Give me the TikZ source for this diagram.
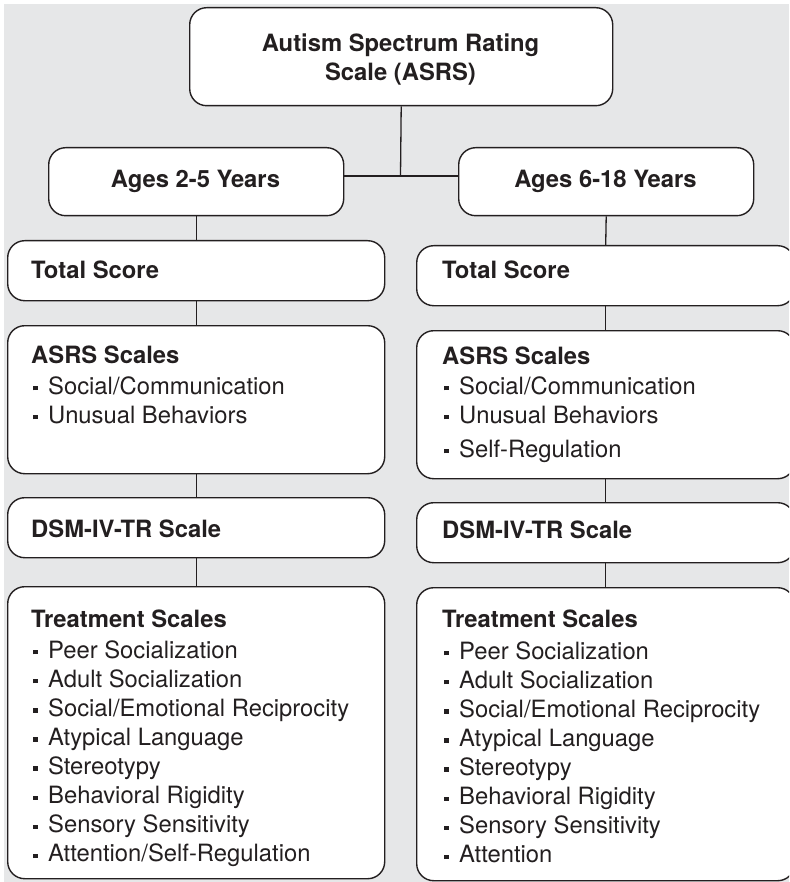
\documentclass[tikz,border=0pt]{standalone}
\usepackage{fontspec}
\setmainfont{TeX Gyre Heros}
\definecolor{panel}{HTML}{E6E7E8}
\definecolor{ink}{HTML}{231F20}
\newcommand{\bul}{\makebox[15pt][l]{\rule[3.7pt]{4.3pt}{4.3pt}}}

\begin{document}
\begin{tikzpicture}[x=1pt,y=-1pt,
  box/.style={rectangle, draw=ink, line width=1.4pt, fill=white,
    rounded corners=17pt, inner sep=0pt, anchor=north west},
  link/.style={draw=ink, line width=1.3pt},
  txt/.style={inner sep=0pt, anchor=base west, text=ink,
    font=\fontsize{23.8}{29}\selectfont},
  head/.style={txt, font=\fontsize{23.8}{29}\selectfont\bfseries},
]
\useasboundingbox (0,0) rectangle (789,882);
\clip (0,0) rectangle (789,882);
\fill[panel] (4,4) rectangle (789,882);

% boxes
\node[box, minimum width=423pt, minimum height=98pt] (top) at (189,7) {};
\node[box, minimum width=295pt, minimum height=68pt] (la) at (48,147) {};
\node[box, minimum width=295pt, minimum height=68pt] (ra) at (458,147) {};

\node[box, minimum width=377pt, minimum height=60pt]  (lt) at (7,240) {};
\node[box, minimum width=377pt, minimum height=148pt] (ls) at (7,325) {};
\node[box, minimum width=377pt, minimum height=60pt]  (ld) at (7,497) {};
\node[box, minimum width=377pt, minimum height=292pt] (lx) at (7,586) {};

\node[box, minimum width=378pt, minimum height=60pt]  (rt) at (416,245) {};
\node[box, minimum width=378pt, minimum height=148pt] (rs) at (416,330) {};
\node[box, minimum width=378pt, minimum height=60pt]  (rd) at (416,502) {};
\node[box, minimum width=378pt, minimum height=293pt] (rx) at (416,587) {};

% connectors
\coordinate (j) at (400.5,176);
\draw[link] (top.south) -- (j);
\draw[link] (la.east |- j) -- (ra.west |- j);
\draw[link] (la.south) -- (lt.north);
\draw[link] (lt.south) -- (ls.north);
\draw[link] (ls.south) -- (ld.north);
\draw[link] (ld.south) -- (lx.north);
\draw[link] (ra.south) -- (rt.north);
\draw[link] (rt.south) -- (rs.north);
\draw[link] (rs.south) -- (rd.north);
\draw[link] (rd.south) -- (rx.north);

% titles
\node[head, anchor=base] (t1) at (400.5,52) {Autism Spectrum Rating};
\node[head, anchor=base] (t2) at (400.5,81) {Scale (ASRS)};
\node[head, anchor=base] (lat) at (195.5,188) {Ages 2-5 Years};
\node[head, anchor=base] (rat) at (605.5,188) {Ages 6-18 Years};

% left column
\node[head] (ltt) at (31,278) {Total Score};
\node[head] (lsh) at (31,363) {ASRS Scales};
\node[txt] (ls1) at (33,394) {\bul Social/Communication};
\node[txt] (ls2) at (33,423) {\bul Unusual Behaviors};
\node[head] (ldt) at (31,537) {DSM-IV-TR Scale};
\node[head] (lxh) at (31,627) {Treatment Scales};
\node[txt] (lx1) at (33,658)   {\bul Peer Socialization};
\node[txt] (lx2) at (33,687.1) {\bul Adult Socialization};
\node[txt] (lx3) at (33,716.2) {\bul Social/Emotional Reciprocity};
\node[txt] (lx4) at (33,745.3) {\bul Atypical Language};
\node[txt] (lx5) at (33,774.4) {\bul Stereotypy};
\node[txt] (lx6) at (33,803.5) {\bul Behavioral Rigidity};
\node[txt] (lx7) at (33,832.6) {\bul Sensory Sensitivity};
\node[txt] (lx8) at (33,861.7) {\bul Attention/Self-Regulation};

% right column
\node[head] (rtt) at (442,278) {Total Score};
\node[head] (rsh) at (442,364) {ASRS Scales};
\node[txt] (rs1) at (444,394) {\bul Social/Communication};
\node[txt] (rs2) at (444,423) {\bul Unusual Behaviors};
\node[txt] (rs3) at (444,457) {\bul Self-Regulation};
\node[head] (rdt) at (442,538) {DSM-IV-TR Scale};
\node[head] (rxh) at (442,627) {Treatment Scales};
\node[txt] (rx1) at (444,659)   {\bul Peer Socialization};
\node[txt] (rx2) at (444,688.1) {\bul Adult Socialization};
\node[txt] (rx3) at (444,717.2) {\bul Social/Emotional Reciprocity};
\node[txt] (rx4) at (444,746.3) {\bul Atypical Language};
\node[txt] (rx5) at (444,775.4) {\bul Stereotypy};
\node[txt] (rx6) at (444,804.5) {\bul Behavioral Rigidity};
\node[txt] (rx7) at (444,833.6) {\bul Sensory Sensitivity};
\node[txt] (rx8) at (444,862.7) {\bul Attention};
\end{tikzpicture}
\end{document}
